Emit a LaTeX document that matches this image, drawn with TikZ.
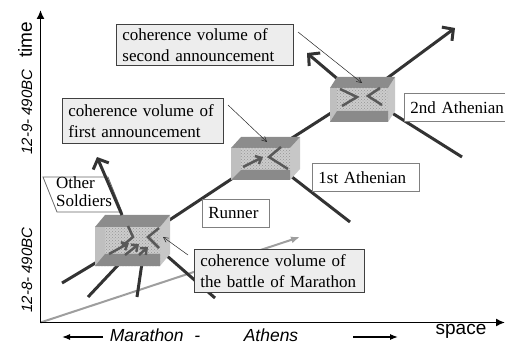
\documentclass[tikz,border=0pt]{standalone}
\usepackage{fontspec}
\setmainfont{Liberation Serif}
\setsansfont{Liberation Sans}
\usetikzlibrary{arrows.meta,patterns}
\newcommand\mycuboid[7]{%
  \fill[black!22] (#3,#2) -- ({#3+#5},{#2+#6}) -- ({#3+#5},{#4+#6}) -- (#3,#4) -- cycle;
  \fill[black!45] (#1,#2) -- ({#1+#5},{#2+#6}) -- ({#3+#5},{#2+#6}) -- (#3,#2) -- cycle;
  \fill[black!20] (#1,#2) rectangle (#3,#4);
  \fill[pattern=crosshatch dots, pattern color=black!42] (#1,#2) rectangle (#3,#4);
  \fill[black!25] (#1,#2) rectangle ({#1+#5},#4);
  \fill[black!46] (#1,#4) -- ({#1+#5},{#4-#7}) -- (#3,{#4-#7}) -- (#3,#4) -- cycle;
}
\begin{document}
\begin{tikzpicture}[x=1pt,y=-1pt,
  wl/.style={line width=3pt, draw=black!80},
  wlarrow/.style={wl, -{Straight Barb[length=8pt,width=17pt]}},
  innermark/.style={line width=2.5pt, draw=black!65},
  innerarrow/.style={innermark, -{Straight Barb[length=5pt,width=9pt]}},
  ptr/.style={line width=0.5pt, draw=black!85, -{Straight Barb[length=5pt,width=5pt]}},
  lbl/.style={line width=0.8pt, anchor=north west, align=left, inner xsep=6pt, inner ysep=0pt, font=\fontsize{17}{21}\selectfont},
  graylabel/.style={lbl, draw=black!75, fill=gray!14},
  whitelabel/.style={lbl, draw=black!50, fill=white},
  axislabel/.style={font=\sffamily\fontsize{19}{19}\selectfont},
  italabel/.style={font=\sffamily\itshape\fontsize{17.5}{17.5}\selectfont},
  datelabel/.style={font=\sffamily\itshape\fontsize{15}{15}\selectfont, rotate=90},
  axis/.style={line width=1.6pt, draw=black, -{Latex[length=9pt,width=8pt]}},
]
\useasboundingbox (0,0) rectangle (505,344);
% coordinates
\coordinate (O) at (40.5,322.5);
\coordinate (ytip) at (40.5,10);
\coordinate (xtip) at (505,322.5);
\coordinate (gtip) at (300,237);
\coordinate (b1r) at (168,221);
\coordinate (b2l) at (233,178);
\coordinate (b2r) at (292,138);
\coordinate (b3l) at (331,113);
\coordinate (b3tr) at (386,79);
\coordinate (tipA) at (455,28);
\coordinate (b3tl) at (340,81);
\coordinate (tipB) at (307,53);
\coordinate (b3br) at (392,113);
\coordinate (endC) at (462,157);
\coordinate (b2br) at (292,177);
\coordinate (endD) at (350,222);
\coordinate (b1br) at (166,255);
\coordinate (endE) at (215,298);
\coordinate (b1t) at (122,215);
\coordinate (tipF) at (97,157);
\coordinate (b1bl) at (97,262);
\coordinate (endG) at (62,283);
\coordinate (b1b1) at (120,263);
\coordinate (endH) at (88,297);
\coordinate (b1b2) at (142,263);
\coordinate (endI) at (137,297);
% gray world line of light
\draw[line width=2pt, draw=black!38, -{Latex[length=9pt,width=7pt]}] (O) -- (gtip);
% world lines
\draw[wl] (b1r) -- (b2l);
\draw[wl] (b2r) -- (b3l);
\draw[wlarrow] (b3tr) -- (tipA);
\draw[wlarrow] (b3tl) -- (tipB);
\draw[wl] (b3br) -- (endC);
\draw[wl] (b2br) -- (endD);
\draw[wl] (b1br) -- (endE);
\draw[wl] (b1bl) -- (endG);
\draw[wl] (b1b1) -- (endH);
\draw[wl] (b1b2) -- (endI);
% boxes
\mycuboid{95}{227}{160}{266}{10}{-12}{12}
\mycuboid{231}{148}{290}{180}{10}{-11}{10}
\mycuboid{330}{88}{388}{122}{7}{-11}{11}
% inner marks box 1
\coordinate (m1a) at (159,228); \coordinate (m1b) at (148,237); \coordinate (m1c) at (159,248);
\draw[innermark] (m1a) -- (m1b) -- (m1c);
\coordinate (z1a) at (128,226); \coordinate (z1b) at (133,237); \coordinate (z1c) at (122,246);
\draw[innermark] (z1a) -- (z1b) -- (z1c);
\coordinate (s1a) at (109,254); \coordinate (s1b) at (129,243);
\coordinate (s2a) at (125,255); \coordinate (s2b) at (139,244);
\coordinate (s3a) at (139,255); \coordinate (s3b) at (148,247);
\draw[innerarrow] (s1a) -- (s1b);
\draw[innerarrow] (s2a) -- (s2b);
\draw[innerarrow] (s3a) -- (s3b);
% inner marks box 2
\coordinate (m2a) at (281,147); \coordinate (m2b) at (269,157); \coordinate (m2c) at (288,169);
\draw[innermark] (m2a) -- (m2b) -- (m2c);
\coordinate (r2a) at (243,167); \coordinate (r2b) at (263,157);
\draw[innerarrow] (r2a) -- (r2b);
% inner marks box 3
\coordinate (m3a) at (340,89); \coordinate (m3b) at (357,97); \coordinate (m3c) at (342,106);
\draw[innermark] (m3a) -- (m3b) -- (m3c);
\coordinate (n3a) at (380,88); \coordinate (n3b) at (368,96); \coordinate (n3c) at (382,105);
\draw[innermark] (n3a) -- (n3b) -- (n3c);
% axes
\draw[axis] (O) -- (ytip);
\draw[axis] (O) -- (xtip);
% labels
\node[graylabel, text width=165pt, minimum height=41pt] (sec) at (116,24) {coherence volume of\\second announcement};
\node[graylabel, text width=149pt, minimum height=45pt] (fir) at (62,98) {coherence volume of\\first announcement};
\node[graylabel, text width=158pt, minimum height=43pt] (bat) at (194,249) {coherence volume of\\the battle of Marathon};
\node[whitelabel, text width=95pt, minimum height=28pt] (ath2) at (404,93) {2nd Athenian};
\node[whitelabel, text width=95pt, minimum height=28pt] (ath1) at (312,163) {1st Athenian};
\node[whitelabel, text width=55pt, minimum height=28pt] (run) at (202,199) {Runner};
% Other soldiers parallelogram
\coordinate (os1) at (43,177); \coordinate (os2) at (108,177);
\coordinate (os3) at (122,212); \coordinate (os4) at (57,212);
\draw[line width=0.8pt, draw=black!60, fill=white] (os1) -- (os2) -- (os3) -- (os4) -- cycle;
\draw[wlarrow] (b1t) -- (tipF);
\node[anchor=north west, align=left, inner sep=0pt, font=\fontsize{17}{18}\selectfont] (oth) at (56,177) {Other\\Soldiers};
% pointers
\coordinate (p2s) at (298,32); \coordinate (p2e) at (362,83);
\coordinate (p1s) at (228,105); \coordinate (p1e) at (267,142);
\coordinate (pbs) at (188,255); \coordinate (pbe) at (163,237);
\draw[ptr] (p2s) -- (p2e);
\draw[ptr] (p1s) -- (p1e);
\draw[ptr] (pbs) -- (pbe);
% axis labels
\node[axislabel, rotate=90] (time) at (25,40) {time};
\node[datelabel] (d9) at (27,112) {12-9- 490BC};
\node[datelabel] (d8) at (27,270) {12-8- 490BC};
\node[axislabel] (space) at (461,331) {space};
\node[italabel] (mar) at (155,335) {Marathon\,\, -};
\node[italabel] (athn) at (271,335) {Athens};
\coordinate (la1) at (103,337); \coordinate (la2) at (62,337);
\coordinate (ra1) at (353,337); \coordinate (ra2) at (398,337);
\draw[line width=1.2pt, -{Latex[length=8pt,width=6pt]}] (la1) -- (la2);
\draw[line width=1.2pt, -{Latex[length=8pt,width=6pt]}] (ra1) -- (ra2);
\end{tikzpicture}
\end{document}
